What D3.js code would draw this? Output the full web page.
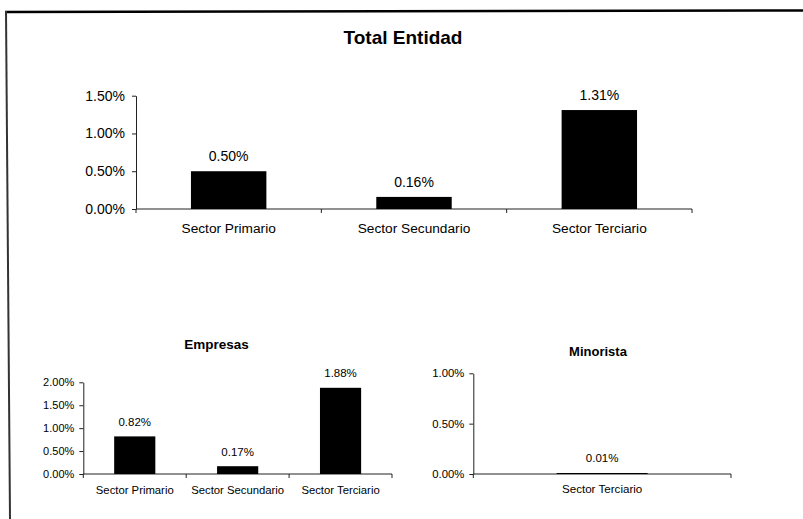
<!DOCTYPE html>
<html>
<head>
<meta charset="utf-8">
<script src="https://cdn.jsdelivr.net/npm/d3@7"></script>
<style>
  body { margin: 0; background: #fff; }
  text { font-family: "Liberation Sans", Arial, sans-serif; fill: #000; }
</style>
</head>
<body>
<script>
// data (values in percent)
const sectors = ["Sector Primario", "Sector Secundario", "Sector Terciario"];
const totalValues = [0.50, 0.16, 1.31];
const totalTicks = [0, 0.5, 1.0, 1.5];

const empresasValues = [0.82, 0.17, 1.88];
const empresasTicks = [0, 0.5, 1.0, 1.5, 2.0];

const minoristaSectors = ["Sector Terciario"];
const minoristaValues = [0.01];
const minoristaTicks = [0, 0.5, 1.0];

const width = 803;
const height = 519;

const svg = d3.select('body')
  .append('svg')
  .attr('width', width)
  .attr('height', height);

// scanned page frame (top and left edges only)
svg.append('line')
  .attr('x1', 5).attr('y1', 12).attr('x2', 803).attr('y2', 10.5)
  .attr('stroke', '#000').attr('stroke-width', 2.5);
svg.append('line')
  .attr('x1', 6).attr('y1', 11).attr('x2', 10).attr('y2', 519)
  .attr('stroke', '#333').attr('stroke-width', 2);

const fmt = (v) => v.toFixed(2) + '%';

/**
 * Draws one Excel-like bar panel.
 * p holds the layout of the panel, cats/vals/ticks come from the arrays above.
 */
function drawPanel(p, cats, vals, ticks) {
  const g = svg.append('g');

  const x = d3.scaleBand()
    .domain(cats)
    .range([p.left, p.right])
    .paddingInner(p.pad)
    .paddingOuter(p.pad / 2);

  // bands without padding, for the category tick marks
  const xCat = d3.scaleBand().domain(cats).range([p.left, p.right]);

  const y = d3.scaleLinear()
    .domain([0, d3.max(ticks)])
    .range([p.zero, p.top]);

  // y axis
  const yAxis = d3.axisLeft(y)
    .tickValues(ticks)
    .tickFormat(fmt)
    .tickSize(4)
    .tickSizeOuter(0);
  const ya = g.append('g')
    .attr('transform', `translate(${p.left},0)`)
    .call(yAxis);
  ya.select('.domain').attr('stroke', '#222');
  ya.selectAll('.tick line').attr('stroke', '#222');
  ya.selectAll('.tick text')
    .attr('x', -p.tickGap)
    .style('font-size', p.tickFont + 'px')
    .attr('fill', '#000');

  // x axis line with ticks on band edges
  g.append('line')
    .attr('x1', p.left).attr('x2', p.right)
    .attr('y1', y(0)).attr('y2', y(0))
    .attr('stroke', '#222');
  const edges = [p.left].concat(cats.map((c) => xCat(c) + xCat.bandwidth()));
  g.selectAll('.xtick')
    .data(edges)
    .enter().append('line')
    .attr('class', 'xtick')
    .attr('x1', (d) => d).attr('x2', (d) => d)
    .attr('y1', y(0)).attr('y2', y(0) + 4)
    .attr('stroke', '#222');

  // bars
  const data = cats.map((c, i) => ({cat: c, val: vals[i]}));
  g.selectAll('rect')
    .data(data)
    .enter().append('rect')
    .attr('x', (d) => x(d.cat))
    .attr('width', x.bandwidth())
    .attr('y', (d) => y(d.val))
    .attr('height', (d) => Math.max(1, y(0) - y(d.val)))
    .attr('fill', '#000');

  // value labels
  g.selectAll('.val')
    .data(data)
    .enter().append('text')
    .attr('class', 'val')
    .attr('x', (d) => x(d.cat) + x.bandwidth() / 2)
    .attr('y', (d) => y(d.val) - p.valGap)
    .attr('text-anchor', 'middle')
    .style('font-size', p.valFont + 'px')
    .text((d) => fmt(d.val));

  // category labels
  g.selectAll('.cat')
    .data(cats)
    .enter().append('text')
    .attr('class', 'cat')
    .attr('x', (d) => xCat(d) + xCat.bandwidth() / 2)
    .attr('y', p.catY)
    .attr('text-anchor', 'middle')
    .style('font-size', p.catFont + 'px')
    .text((d) => d);

  // title
  g.append('text')
    .attr('x', p.titleX)
    .attr('y', p.titleY)
    .attr('text-anchor', 'middle')
    .style('font-size', p.titleFont + 'px')
    .style('font-weight', 'bold')
    .text(p.title);
}

drawPanel({
  title: 'Total Entidad', titleX: 403, titleY: 44, titleFont: 19,
  left: 136, right: 692, zero: 209, top: 95.7, pad: 0.593,
  tickFont: 14, tickGap: 11, valFont: 14, valGap: 10,
  catFont: 13.7, catY: 232.5
}, sectors, totalValues, totalTicks);

drawPanel({
  title: 'Empresas', titleX: 216.5, titleY: 349, titleFont: 13.5,
  left: 83.3, right: 392, zero: 474, top: 382.3, pad: 0.6,
  tickFont: 11, tickGap: 9, valFont: 11.5, valGap: 10.5,
  catFont: 11.3, catY: 494
}, sectors, empresasValues, empresasTicks);

drawPanel({
  title: 'Minorista', titleX: 598, titleY: 355.7, titleFont: 13,
  left: 473.3, right: 731, zero: 474, top: 373.3, pad: 0.647,
  tickFont: 11.3, tickGap: 9, valFont: 11.5, valGap: 11,
  catFont: 11.6, catY: 492.7
}, minoristaSectors, minoristaValues, minoristaTicks);
</script>
</body>
</html>
